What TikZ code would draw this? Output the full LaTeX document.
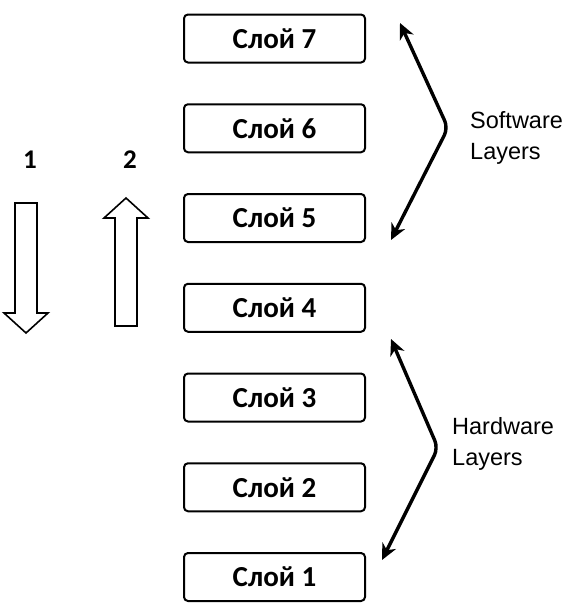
\documentclass[tikz,border=0pt]{standalone}
\usepackage{fontspec}
\setmainfont{Carlito}
\newfontfamily\helv{Liberation Sans}
\usetikzlibrary{arrows.meta}
\tikzset{
  layerbox/.style={draw, line width=2pt, rounded corners=4pt, minimum width=181pt, minimum height=48pt, inner sep=0pt, font=\fontsize{29}{32}\selectfont\bfseries},
  numlabel/.style={font=\fontsize{27}{30}\selectfont\bfseries, inner sep=0pt},
  sidelabel/.style={font=\helv\fontsize{23.5}{31}\selectfont, align=left, anchor=west, inner sep=0pt},
  bentarrow/.style={line width=3.4pt, rounded corners=8pt, {Stealth[length=16pt,width=15pt,inset=5pt]}-{Stealth[length=16pt,width=15pt,inset=5pt]}},
  blockarrow/.style={draw, line width=1.6pt, fill=white, line join=miter}
}
\begin{document}
\begin{tikzpicture}[x=1pt,y=-1pt]
\useasboundingbox (0,0) rectangle (583,613);
\foreach \i/\n in {7/0,6/1,5/2,4/3,3/4,2/5,1/6}{
  \node[layerbox] (L\i) at (274.5, 38.5+89.75*\n) {Слой \i};
}
% block arrows
\node[numlabel] (n1) at (30,160) {1};
\node[numlabel] (n2) at (130,160) {2};
\draw[blockarrow] (15,203) -- (37,203) -- (37,313) -- (48,313) -- (26,333) -- (4,313) -- (15,313) -- cycle;
\draw[blockarrow] (115,326) -- (137,326) -- (137,218) -- (148,218) -- (126,198) -- (104,218) -- (115,218) -- cycle;
% bent double arrows
\coordinate (swtop) at (400,23);
\coordinate (swmid) at (448,128);
\coordinate (swbot) at (391,240);
\coordinate (hwtop) at (391,339);
\coordinate (hwmid) at (438,448);
\coordinate (hwbot) at (382,560);
\draw[bentarrow] (swtop) -- (swmid) -- (swbot);
\draw[bentarrow] (hwtop) -- (hwmid) -- (hwbot);
\node[sidelabel] (sw) at (470,138) {Software\\Layers};
\node[sidelabel] (hw) at (452,444) {Hardware\\Layers};
\end{tikzpicture}
\end{document}
